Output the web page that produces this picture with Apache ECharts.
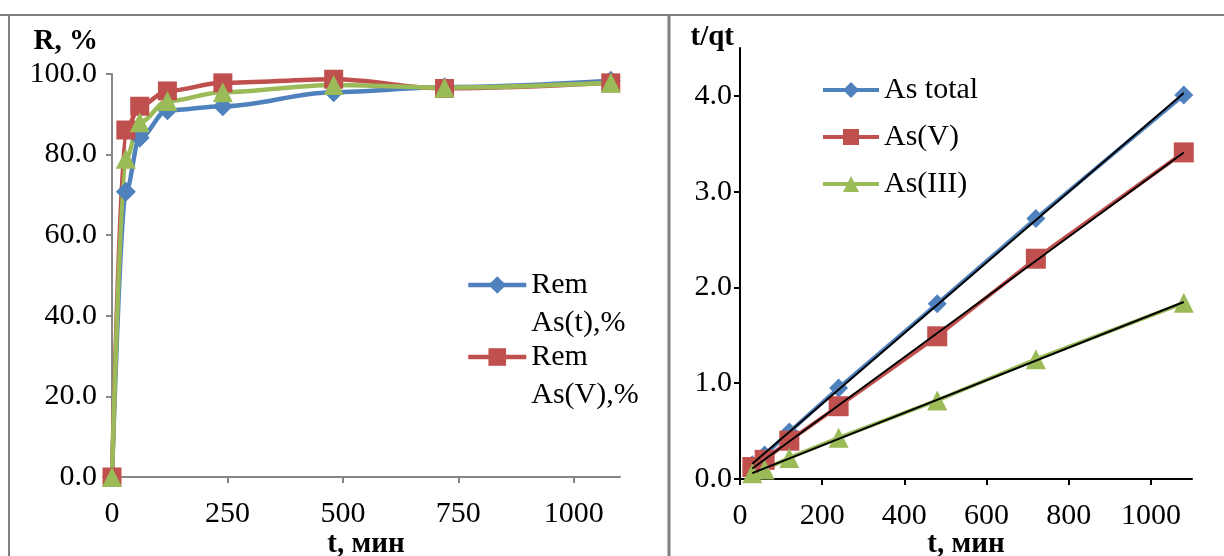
<!DOCTYPE html>
<html>
<head>
<meta charset="utf-8">
<script src="https://cdn.jsdelivr.net/npm/echarts@6/dist/echarts.min.js"></script>
<style>
  html, body { margin: 0; padding: 0; background: #fff; }
  #chart { width: 1224px; height: 556px; }
</style>
</head>
<body>
<div id="chart"></div>
<script>
// left panel: removal R, % vs time
const remTime = [0, 30, 60, 120, 240, 480, 720, 1080];
const remTotal = [0, 70.8, 84.2, 91, 92, 95.5, 96.7, 98.3];
const remV = [0, 86.1, 92, 95.8, 97.8, 98.7, 96.4, 97.8];
const remIII = [0, 79, 88, 93.3, 95.5, 97.3, 96.6, 97.8];
const leftXTicks = [0, 250, 500, 750, 1000];

// right panel: t/qt vs time (pseudo-second-order plot)
const kinTime = [30, 60, 120, 240, 480, 720, 1080];
const tqTotal = [0.15, 0.25, 0.49, 0.95, 1.83, 2.72, 4.01];
const tqV = [0.125, 0.2, 0.4, 0.76, 1.49, 2.3, 3.41];
const tqIII = [0.06, 0.1, 0.22, 0.43, 0.82, 1.25, 1.84];
const rightXTicks = [0, 200, 400, 600, 800, 1000];
const rightYTicks = [0, 1, 2, 3, 4];

const BLUE = '#4F81BD', RED = '#C0504D', GREEN = '#9BBB59';
const FONT = '"Liberation Serif", "Times New Roman", serif';

function pairs(xs, ys) { return xs.map((x, i) => [x, ys[i]]); }

// least-squares trend line, drawn between first and last time
function trend(xs, ys) {
  const n = xs.length;
  let sx = 0, sy = 0, sxx = 0, sxy = 0;
  for (let i = 0; i < n; i++) { sx += xs[i]; sy += ys[i]; sxx += xs[i] * xs[i]; sxy += xs[i] * ys[i]; }
  const b = (n * sxy - sx * sy) / (n * sxx - sx * sx);
  const a = (sy - b * sx) / n;
  const x0 = xs[0], x1 = xs[n - 1];
  return [[x0, a + b * x0], [x1, a + b * x1]];
}

const labelStyle = { fontFamily: FONT, fontSize: 30, color: '#000' };
const nameStyle = { fontFamily: FONT, fontSize: 29, fontWeight: 'bold', color: '#000' };

function remSeries(name, data, color, symbol, size) {
  return {
    name, type: 'line', xAxisIndex: 0, yAxisIndex: 0,
    data: pairs(remTime, data), smooth: 0.35, smoothMonotone: 'x',
    symbol, symbolSize: size,
    lineStyle: { color, width: 4.5 }, itemStyle: { color },
  };
}

function kinSeries(name, data, color, symbol, size) {
  return {
    name, type: 'line', xAxisIndex: 1, yAxisIndex: 1,
    data: pairs(kinTime, data), symbol, symbolSize: size,
    lineStyle: { color, width: 4 }, itemStyle: { color },
  };
}

function trendSeries(data) {
  return {
    type: 'line', xAxisIndex: 1, yAxisIndex: 1, data: trend(kinTime, data),
    symbol: 'none', silent: true, lineStyle: { color: '#000', width: 2 }, z: 5,
  };
}

const plain = v => String(v);
// blank first line so the legend icon sits beside the first text line
const topAligned = name => ' \n' + name;

const chart = echarts.init(document.getElementById('chart'));
chart.setOption({
  animation: false,
  grid: [
    { left: 112, top: 74, width: 508, height: 403, outerBoundsMode: 'none' },
    { left: 740, top: 48, width: 452, height: 431, outerBoundsMode: 'none' },
  ],
  xAxis: [
    {
      gridIndex: 0, type: 'value', min: 0, max: 1100,
      name: 't, мин', nameLocation: 'middle', nameGap: 53, nameMoveOverlap: false, nameTextStyle: nameStyle,
      axisLine: { lineStyle: { color: '#868686', width: 2 } },
      axisTick: { customValues: leftXTicks, length: 6, lineStyle: { color: '#868686', width: 2 } },
      axisLabel: { customValues: leftXTicks, margin: 22, formatter: plain, ...labelStyle },
      splitLine: { show: false },
    },
    {
      gridIndex: 1, type: 'value', min: 0, max: 1100,
      name: 't, мин', nameLocation: 'middle', nameGap: 51, nameMoveOverlap: false, nameTextStyle: nameStyle,
      axisLine: { lineStyle: { color: '#000', width: 2 } },
      axisTick: { customValues: rightXTicks, length: 6, lineStyle: { color: '#000', width: 2 } },
      axisLabel: { customValues: rightXTicks, margin: 22, formatter: plain, ...labelStyle },
      splitLine: { show: false },
    },
  ],
  yAxis: [
    {
      gridIndex: 0, type: 'value', min: 0, max: 100, interval: 20,
      name: 'R, %', nameLocation: 'end', nameGap: 18,
      nameTextStyle: { ...nameStyle, align: 'right', padding: [0, 14, 0, 0] },
      axisLine: { show: true, lineStyle: { color: '#868686', width: 2 } },
      axisTick: { show: true, length: 6, lineStyle: { color: '#868686', width: 2 } },
      axisLabel: { margin: 15, formatter: v => v.toFixed(1), ...labelStyle },
      splitLine: { show: false },
    },
    {
      gridIndex: 1, type: 'value', min: 0, max: 4.5,
      name: 't/qt', nameLocation: 'end', nameGap: -4,
      nameTextStyle: { ...nameStyle, align: 'right', padding: [0, 6, 0, 0] },
      axisLine: { show: true, lineStyle: { color: '#000', width: 2 } },
      axisTick: { show: true, customValues: rightYTicks, length: 6, lineStyle: { color: '#000', width: 2 } },
      axisLabel: { customValues: rightYTicks, margin: 8, formatter: v => v.toFixed(1), ...labelStyle },
      splitLine: { show: false },
    },
  ],
  legend: [
    {
      data: ['Rem\nAs(t),%'], left: 466, top: 228, padding: 0, formatter: topAligned,
      itemWidth: 58, itemHeight: 22, lineStyle: { width: 4.5 },
      textStyle: { ...labelStyle, lineHeight: 38 },
    },
    {
      data: ['Rem\nAs(V),%'], left: 466, top: 300, padding: 0, formatter: topAligned,
      itemWidth: 58, itemHeight: 22, lineStyle: { width: 4.5 },
      textStyle: { ...labelStyle, lineHeight: 38 },
    },
    {
      data: ['As total', 'As(V)', 'As(III)'], orient: 'vertical',
      left: 821, top: 74, padding: 0, itemGap: 15,
      itemWidth: 56, itemHeight: 20, lineStyle: { width: 4 },
      textStyle: { ...labelStyle, lineHeight: 32 },
    },
  ],
  graphic: [
    { type: 'line', shape: { x1: 0, y1: 15, x2: 1224, y2: 15 }, style: { stroke: '#7f7f7f', lineWidth: 2 }, silent: true },
    { type: 'line', shape: { x1: 9, y1: 15, x2: 9, y2: 556 }, style: { stroke: '#7f7f7f', lineWidth: 2 }, silent: true },
    { type: 'line', shape: { x1: 669, y1: 15, x2: 669, y2: 556 }, style: { stroke: '#7f7f7f', lineWidth: 3 }, silent: true },
  ],
  series: [
    remSeries('Rem\nAs(t),%', remTotal, BLUE, 'diamond', 20),
    remSeries('Rem\nAs(V),%', remV, RED, 'rect', 19),
    remSeries('Rem\nAs(III),%', remIII, GREEN, 'triangle', 20),
    kinSeries('As total', tqTotal, BLUE, 'diamond', 19),
    kinSeries('As(V)', tqV, RED, 'rect', 20),
    kinSeries('As(III)', tqIII, GREEN, 'triangle', 20),
    trendSeries(tqTotal),
    trendSeries(tqV),
    trendSeries(tqIII),
  ],
});
</script>
</body>
</html>
